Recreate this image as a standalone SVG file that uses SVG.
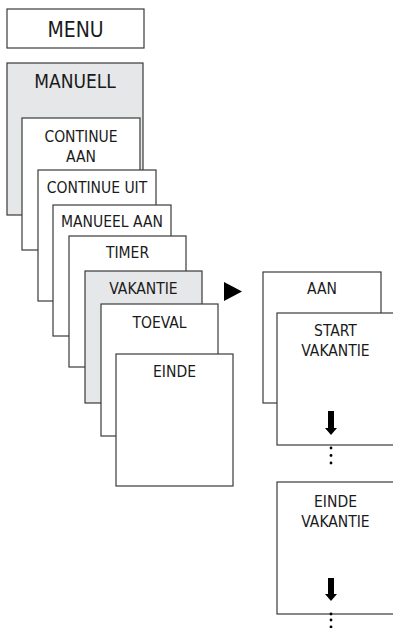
<svg xmlns="http://www.w3.org/2000/svg" width="393" height="628" viewBox="0 0 393 628">
<style>
.b{fill:#fff;stroke:#3a3a3a;stroke-width:1.2}
.g{fill:#e6e7e9;stroke:#3a3a3a;stroke-width:1.2}
text{font-family:"DejaVu Sans Condensed","DejaVu Sans",sans-serif;font-stretch:condensed;fill:#1a1a1a;text-anchor:middle;font-size:15.5px}
.L{font-size:21px}
.M{font-size:19px}
.k{fill:#000}
</style>
<rect width="393" height="628" fill="#fff"/>
<g id="menu"><rect class="b" x="7" y="9" width="137" height="39"/><text class="L" x="75.5" y="37">MENU</text></g>
<g id="manuell"><rect class="g" x="7" y="63" width="136" height="152"/><text class="M" x="75" y="88">MANUELL</text></g>
<g id="continue-aan"><rect class="b" x="22" y="118" width="118" height="132"/><text x="81" y="142">CONTINUE</text><text x="81" y="161.5">AAN</text></g>
<g id="continue-uit"><rect class="b" x="38" y="170" width="118" height="131"/><text x="97" y="193">CONTINUE UIT</text></g>
<g id="manueel-aan"><rect class="b" x="53" y="205" width="118" height="131"/><text x="112" y="227">MANUEEL AAN</text></g>
<g id="timer"><rect class="b" x="69" y="236" width="117" height="131"/><text x="127.5" y="258">TIMER</text></g>
<g id="vakantie"><rect class="g" x="85" y="271" width="117" height="132"/><text x="143.5" y="294">VAKANTIE</text></g>
<g id="toeval"><rect class="b" x="101" y="304" width="117" height="132"/><text x="159.5" y="328">TOEVAL</text></g>
<g id="einde"><rect class="b" x="116" y="354" width="117" height="132"/><text x="174.5" y="377">EINDE</text></g>
<g id="connectors">
<polygon class="k" points="224,282 242,291.5 224,301"/>
</g>
<g id="aan"><rect class="b" x="263" y="272" width="118" height="131"/><text x="322" y="294">AAN</text></g>
<g id="start-vakantie"><rect class="b" x="277" y="313" width="120" height="132"/><text x="335.5" y="336">START</text><text x="335.5" y="355.5">VAKANTIE</text>
<path class="k" d="M328,411h6v17h3l-6,7l-6,-7h3z"/>
<circle class="k" cx="331" cy="448" r="1.4"/><circle class="k" cx="331" cy="455.5" r="1.4"/><circle class="k" cx="331" cy="463" r="1.4"/></g>
<g id="einde-vakantie"><rect class="b" x="277" y="482" width="120" height="132"/><text x="335.5" y="506.5">EINDE</text><text x="335.5" y="527">VAKANTIE</text>
<path class="k" d="M328,578h6v16h3l-6,7l-6,-7h3z"/>
<circle class="k" cx="331" cy="614" r="1.4"/><circle class="k" cx="331" cy="620" r="1.4"/><circle class="k" cx="331" cy="627" r="1.4"/></g>
</svg>
